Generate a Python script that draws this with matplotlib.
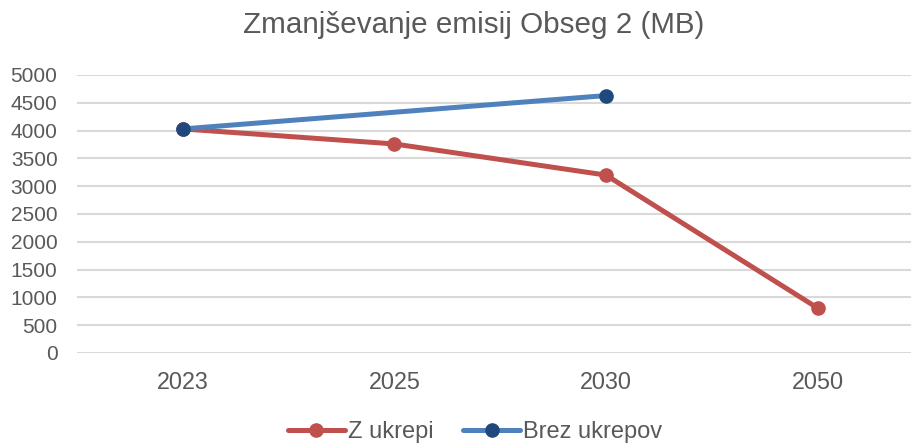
import numpy as np
import matplotlib
matplotlib.use("Agg")
import matplotlib.pyplot as plt

plt.rcParams["font.family"] = ["Liberation Sans", "DejaVu Sans"]

years = ["2023", "2025", "2030", "2050"]
z_ukrepi = [4030, 3760, 3200, 810]
brez_ukrepov = [4030, np.nan, 4630, np.nan]
y_ticks = list(range(0, 5001, 500))

text_col = "#595959"
red = "#C0504D"
blue = "#4F81BD"
blue_dark = "#1F497D"

fig = plt.figure(figsize=(9.12, 4.43), dpi=100)
ax = fig.add_axes([0.0844, 0.2032, 0.928, 0.6275])

x = np.arange(len(years))
ax.plot(x, z_ukrepi, color=red, lw=3.6, marker="o", ms=9.5,
        mfc=red, mec=red, label="Z ukrepi", zorder=3, solid_capstyle="round")

# blue series has a gap at 2025, line joins the known points
b = np.array(brez_ukrepov, dtype=float)
ok = ~np.isnan(b)
ax.plot(x[ok], b[ok], color=blue, lw=3.6, marker="o", ms=9.5,
        mfc=blue_dark, mec=blue_dark, label="Brez ukrepov", zorder=4,
        solid_capstyle="round")

ax.set_xlim(-0.5, 3.5)
ax.set_ylim(0, 5000)
ax.set_xticks(x)
ax.set_xticklabels(years)
ax.set_yticks(y_ticks)
ax.tick_params(axis="both", length=0, colors=text_col)
ax.tick_params(axis="x", labelsize=16.8, pad=13)
ax.tick_params(axis="y", labelsize=15, pad=14)
ax.grid(axis="y", color="#D9D9D9", lw=1.5)
ax.set_axisbelow(True)
for s in ax.spines.values():
    s.set_visible(False)

fig.suptitle("Zmanjševanje emisij Obseg 2 (MB)", x=0.519, y=0.943,
             va="center", fontsize=21.3, color=text_col)

fig.legend(loc="center", bbox_to_anchor=(0.521, 0.024), ncol=2, frameon=False,
           fontsize=17, labelcolor=text_col, handlelength=2.4,
           columnspacing=1.27, handletextpad=0.13)

fig.savefig("out.png", dpi=100)
